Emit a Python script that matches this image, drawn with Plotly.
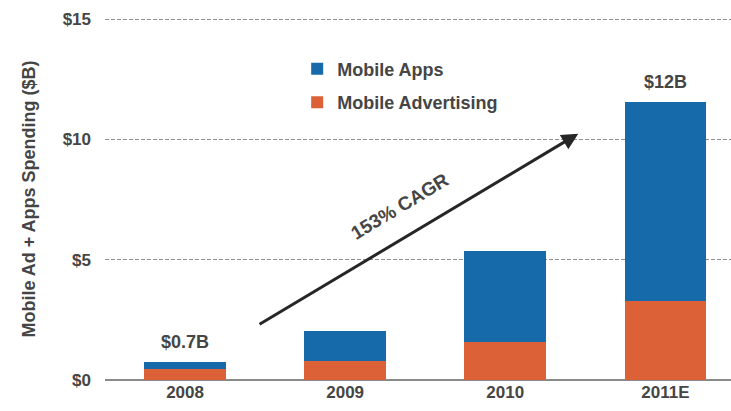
import plotly.graph_objects as go

years = ["2008", "2009", "2010", "2011E"]
advertising = [0.45, 0.79, 1.60, 3.27]
apps = [0.30, 1.24, 3.75, 8.29]
totals_labels = ["$0.7B", "", "", "$12B"]
y_ticks = [0, 5, 10, 15]
y_ticklabels = ["$0", "$5", "$10", "$15"]
cagr_text = "153% CAGR"
arrow_start = (0.456, 2.28)
arrow_end = (2.456, 10.24)

FONT = "Liberation Sans, Arial, sans-serif"
TXT = "#454545"

fig = go.Figure()
fig.add_trace(go.Bar(x=years, y=advertising, name="<b>Mobile Advertising</b>",
                     marker=dict(color="#dc6136", line=dict(width=0)),
                     legendgroup="b", legendrank=2))
fig.add_trace(go.Bar(x=years, y=apps, name="<b>Mobile Apps</b>",
                     marker=dict(color="#176aaa", line=dict(width=0)),
                     legendgroup="a", legendrank=1))

totals = [a + b for a, b in zip(advertising, apps)]
for i, (t, lab) in enumerate(zip(totals, totals_labels)):
    if lab:
        fig.add_annotation(x=i, y=t, text="<b>%s</b>" % lab, showarrow=False,
                           yanchor="bottom", yshift=8,
                           font=dict(family=FONT, size=18, color=TXT))

# arrow
fig.add_annotation(x=arrow_end[0], y=arrow_end[1], ax=arrow_start[0], ay=arrow_start[1],
                   xref="x", yref="y", axref="x", ayref="y", text="",
                   showarrow=True, arrowhead=2, arrowsize=1.1, arrowwidth=3,
                   arrowcolor="#262626")
fig.add_annotation(x=1.34, y=7.2, xref="x", yref="y", text="<b>%s</b>" % cagr_text,
                   showarrow=False, textangle=-31,
                   font=dict(family=FONT, size=19, color=TXT))

fig.update_layout(
    width=731, height=411,
    margin=dict(l=105, r=0, t=18, b=31),
    barmode="stack", bargap=0.49,
    plot_bgcolor="white", paper_bgcolor="white",
    showlegend=True,
    legend=dict(x=0.307, y=0.91, xanchor="left", yanchor="top",
                traceorder="grouped", tracegroupgap=7,
                font=dict(family=FONT, size=18, color=TXT),
                bgcolor="rgba(0,0,0,0)", itemwidth=30),
    xaxis=dict(type="category", range=[-0.5, 3.41], showgrid=False, ticks="",
               tickfont=dict(family=FONT, size=17, color=TXT),
               tickprefix="<b>", ticksuffix="</b>",
               showline=False, zeroline=False),
    yaxis=dict(range=[0, 15.05], tickvals=y_ticks,
               ticktext=["<b>%s</b>" % t for t in y_ticklabels],
               tickfont=dict(family=FONT, size=17, color=TXT),
               showgrid=True, gridcolor="#8f8f8f", griddash="4px,2px", gridwidth=1,
               zeroline=True, zerolinecolor="#8a8a8a", zerolinewidth=1.5,
               ticklabelstandoff=13,
               title=dict(text="<b>Mobile Ad + Apps Spending ($B)</b>", standoff=22,
                          font=dict(family=FONT, size=18, color=TXT))),
)

fig.write_html("out.html")
